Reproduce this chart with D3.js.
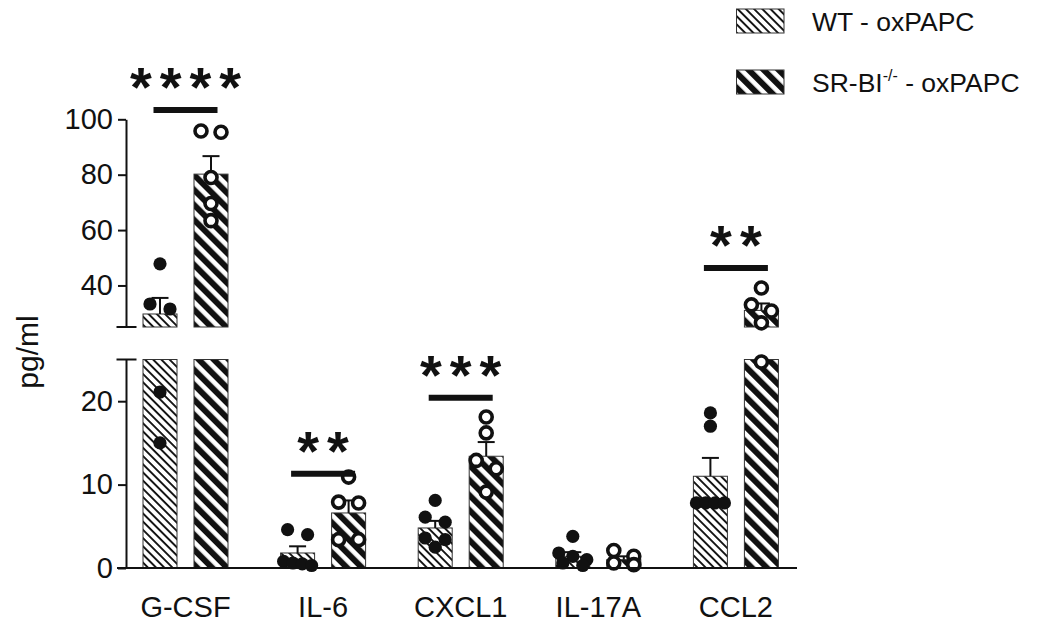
<!DOCTYPE html>
<html>
<head>
<meta charset="utf-8">
<script src="https://cdn.jsdelivr.net/npm/d3@7"></script>
<style>
  html, body { margin: 0; padding: 0; background: #fff; }
  svg { display: block; }
  text { font-family: "Liberation Sans", Arial, sans-serif; fill: #111; }
</style>
</head>
<body>
<svg id="chart" width="1050" height="631"></svg>
<script>
// ---------- data ----------
const categories = ["G-CSF", "IL-6", "CXCL1", "IL-17A", "CCL2"];
const groups = ["WT", "SR"];
const legendLabels = ["WT - oxPAPC", "SR-BI", "-/-", " - oxPAPC"];
const wtMean = [29.7, 1.8, 4.8, 1.4, 11.0];
const wtSem  = [5.8, 0.8, 0.85, 0.5, 2.2];
const srMean = [80.2, 6.6, 13.4, 1.0, 31.0];
const srSem  = [6.5, 1.5, 1.7, 0.4, 2.5];
const wtPoints = [
  [47.8, 33.3, 31.5, 21.1, 15.0],
  [4.6, 4.0, 0.8, 0.6, 0.5, 0.3],
  [8.1, 6.1, 5.5, 3.6, 3.4, 2.5],
  [3.8, 1.8, 1.4, 1.0, 0.6, 0.3],
  [18.6, 17.0, 7.8, 7.8, 7.8, 7.8]
];
const srPoints = [
  [95.8, 95.3, 79.0, 69.6, 63.4],
  [10.9, 7.9, 7.8, 3.4, 3.4],
  [18.1, 16.2, 12.9, 11.9, 9.1],
  [2.1, 1.4, 0.6, 0.4],
  [39.1, 33.0, 30.8, 26.5, 24.7]
];
const sigLabels = ["****", "**", "***", "", "**"];
const sigLevels = [103.4, 11.3, 20.4, null, 46.3];
const lowTicks = [0, 10, 20];
const highTicks = [40, 60, 80, 100];
const breakValue = 25;
const maxValue = 100;
const yTitle = "pg/ml";

// ---------- layout ----------
const svg = d3.select("#chart");
const axisX = 126;
const yLow = d3.scaleLinear().domain([0, breakValue]).range([568, 359.5]);
const yHigh = d3.scaleLinear().domain([breakValue, maxValue]).range([327, 119.3]);
const yv = v => v <= breakValue ? yLow(v) : yHigh(v);

const x = d3.scaleBand().domain(categories).range([116.7, 804.7]);
const xs = d3.scaleBand().domain(groups)
  .range([x.bandwidth() / 2 - 42.5, x.bandwidth() / 2 + 42.5]).paddingInner(1 / 3);
const bw = xs.bandwidth();

// ---------- patterns ----------
const defs = svg.append("defs");
const pWT = defs.append("pattern").attr("id", "hatchWT")
  .attr("patternUnits", "userSpaceOnUse").attr("width", 10).attr("height", 5.8)
  .attr("patternTransform", "rotate(45)");
pWT.append("rect").attr("width", 10).attr("height", 5.8).attr("fill", "#fff");
pWT.append("rect").attr("width", 10).attr("height", 1.9).attr("fill", "#111");
const pSR = defs.append("pattern").attr("id", "hatchSR")
  .attr("patternUnits", "userSpaceOnUse").attr("width", 10).attr("height", 10.6)
  .attr("patternTransform", "rotate(45)");
pSR.append("rect").attr("width", 10).attr("height", 10.6).attr("fill", "#111");
pSR.append("rect").attr("width", 10).attr("height", 4.6).attr("fill", "#fff");
const fills = { WT: "url(#hatchWT)", SR: "url(#hatchSR)" };

// ---------- bars ----------
const barData = [];
categories.forEach((c, i) => {
  barData.push({ c, g: "WT", mean: wtMean[i], sem: wtSem[i], pts: wtPoints[i] });
  barData.push({ c, g: "SR", mean: srMean[i], sem: srSem[i], pts: srPoints[i] });
});
const bx = d => x(d.c) + xs(d.g);
const bcx = d => bx(d) + bw / 2;

const barsG = svg.append("g");
barData.forEach(d => {
  const lowTop = yLow(Math.min(d.mean, breakValue));
  barsG.append("rect")
    .attr("x", bx(d)).attr("y", lowTop)
    .attr("width", bw).attr("height", yLow(0) - lowTop)
    .attr("fill", fills[d.g]).attr("stroke", "#333").attr("stroke-width", 1);
  if (d.mean > breakValue) {
    barsG.append("rect")
      .attr("x", bx(d)).attr("y", yHigh(d.mean))
      .attr("width", bw).attr("height", yHigh(breakValue) - yHigh(d.mean))
      .attr("fill", fills[d.g]).attr("stroke", "#333").attr("stroke-width", 1);
  }
});

// ---------- error bars (upper whisker) ----------
const errG = svg.append("g").attr("stroke", "#111").attr("stroke-width", 2);
barData.forEach(d => {
  const y0 = yv(d.mean), y1 = yv(d.mean + d.sem);
  errG.append("line").attr("x1", bcx(d)).attr("x2", bcx(d)).attr("y1", y0).attr("y2", y1);
  errG.append("line").attr("x1", bcx(d) - 8.5).attr("x2", bcx(d) + 8.5).attr("y1", y1).attr("y2", y1);
});

// ---------- points (row-based dodge) ----------
function dodge(values, cx) {
  const pts = values.map(v => ({ v, py: yv(v) })).sort((a, b) => a.py - b.py);
  const rows = [];
  pts.forEach(p => {
    const r = rows[rows.length - 1];
    if (r && p.py - r[0].py < 9) r.push(p); else rows.push([p]);
  });
  rows.forEach(r => {
    const n = r.length;
    const sp = n > 1 ? Math.min(20, (bw - 6) / (n - 1)) : 0;
    r.forEach((p, i) => { p.px = cx + (i - (n - 1) / 2) * sp; });
  });
  return pts;
}
const ptsG = svg.append("g");
barData.forEach(d => {
  const pts = dodge(d.pts, bcx(d));
  pts.forEach(p => {
    const c = ptsG.append("circle").attr("cx", p.px).attr("cy", p.py);
    if (d.g === "WT") c.attr("r", 6.6).attr("fill", "#111");
    else c.attr("r", 6).attr("fill", "#fff").attr("stroke", "#111").attr("stroke-width", 3.6);
  });
});

// ---------- axes ----------
const axLow = svg.append("g").attr("transform", `translate(${axisX},0)`)
  .call(d3.axisLeft(yLow).tickValues(lowTicks).tickSize(8).tickSizeOuter(0).tickPadding(5));
const axHigh = svg.append("g").attr("transform", `translate(${axisX},0)`)
  .call(d3.axisLeft(yHigh).tickValues(highTicks).tickSize(8).tickSizeOuter(0).tickPadding(5));
[axLow, axHigh].forEach(a => {
  a.selectAll("path, line").attr("stroke", "#111").attr("stroke-width", 2);
  a.selectAll("text").attr("font-size", 29).attr("fill", "#111")
    .style("font-family", "'Liberation Sans', Arial, sans-serif");
});
// break caps
[yLow(breakValue), yHigh(breakValue)].forEach(yy => {
  svg.append("line").attr("x1", axisX - 9.5).attr("x2", axisX + 10.5)
    .attr("y1", yy).attr("y2", yy).attr("stroke", "#111").attr("stroke-width", 2);
});

const axB = svg.append("g").attr("transform", `translate(0,${yLow(0)})`)
  .call(d3.axisBottom(x).tickSize(0).tickSizeOuter(0).tickPadding(28));
axB.select(".domain").attr("stroke", "#111").attr("stroke-width", 2)
  .attr("d", `M${axisX - 9},0H797`);
axB.selectAll("text").attr("font-size", 29).attr("fill", "#111")
  .style("font-family", "'Liberation Sans', Arial, sans-serif");

svg.append("text").attr("transform", `translate(38,352) rotate(-90)`)
  .attr("text-anchor", "middle").attr("font-size", 30).text(yTitle);

// ---------- significance ----------
categories.forEach((c, i) => {
  if (!sigLabels[i]) return;
  const cx = x(c) + x.bandwidth() / 2;
  const yy = yv(sigLevels[i]);
  svg.append("line").attr("x1", cx - 32).attr("x2", cx + 32)
    .attr("y1", yy).attr("y2", yy).attr("stroke", "#111").attr("stroke-width", 6);
  svg.append("text").attr("x", cx + 4).attr("y", yy - 4)
    .attr("text-anchor", "middle").attr("font-size", 56).attr("font-weight", "bold")
    .attr("letter-spacing", 8).text(sigLabels[i]);
});

// ---------- legend ----------
const leg = svg.append("g");
[["WT", 9], ["SR", 70]].forEach(([g, yy]) => {
  leg.append("rect").attr("x", 736.5).attr("y", yy).attr("width", 47.5).attr("height", 24)
    .attr("fill", fills[g]).attr("stroke", "#333").attr("stroke-width", 1);
});
leg.append("text").attr("x", 812).attr("y", 31).attr("font-size", 26.5).text(legendLabels[0]);
const t2 = leg.append("text").attr("x", 812).attr("y", 92).attr("font-size", 26.5);
t2.append("tspan").text(legendLabels[1]);
t2.append("tspan").attr("font-size", 16).attr("dy", -11).text(legendLabels[2]);
t2.append("tspan").attr("dy", 11).text(legendLabels[3]);
</script>
</body>
</html>
